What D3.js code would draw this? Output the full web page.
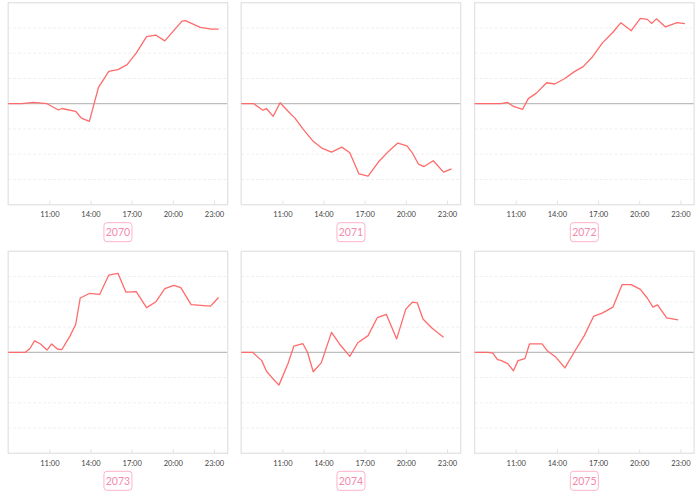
<!DOCTYPE html>
<html><head><meta charset="utf-8">
<script src="https://cdn.jsdelivr.net/npm/d3@7"></script>
<style>body{margin:0;background:#fff;}svg{display:block;}</style>
</head><body>
<script>
const years = ["2070","2071","2072","2073","2074","2075"];
const xTicks = ["11:00","14:00","17:00","20:00","23:00"];

const times2070 = ["08:00","09:00","09:50","10:50","11:40","11:55","12:55","13:20","13:55","14:35","15:20","16:00","16:40","17:20","18:05","18:45","19:25","20:40","20:55","22:00","22:50","23:20"];
const values2070 = [0,0,0.05,0,-0.25,-0.19,-0.30,-0.57,-0.70,0.65,1.28,1.35,1.55,2.0,2.66,2.72,2.49,3.27,3.29,3.02,2.95,2.95];

const times2071 = ["08:00","08:55","09:35","09:50","10:20","10:50","11:25","11:55","12:30","13:15","13:55","14:35","15:20","15:55","16:35","17:15","18:00","18:45","19:25","20:05","20:30","20:55","21:20","22:00","22:45","23:20"];
const values2071 = [0,0,-0.26,-0.19,-0.50,0.04,-0.30,-0.57,-1.0,-1.49,-1.77,-1.92,-1.72,-1.94,-2.78,-2.87,-2.31,-1.88,-1.56,-1.67,-1.97,-2.39,-2.49,-2.26,-2.71,-2.58];

const times2072 = ["08:00","09:55","10:25","10:50","11:30","11:55","12:30","13:15","13:50","14:35","15:15","15:55","16:35","17:20","18:05","18:40","19:25","20:05","20:35","20:55","21:15","21:55","22:45","23:20"];
const values2072 = [0,0,0.05,-0.11,-0.22,0.2,0.42,0.83,0.78,1.0,1.26,1.47,1.85,2.42,2.83,3.21,2.89,3.38,3.34,3.18,3.36,3.04,3.21,3.17];

const times2073 = ["08:00","09:15","09:35","09:55","10:20","10:50","11:10","11:35","11:55","12:30","12:55","13:15","13:55","14:40","15:20","16:00","16:35","17:20","18:05","18:45","19:25","20:05","20:35","21:20","22:45","23:20"];
const values2073 = [0,0,0.15,0.45,0.34,0.09,0.33,0.13,0.11,0.64,1.1,2.15,2.33,2.29,3.06,3.13,2.38,2.4,1.77,1.99,2.52,2.65,2.56,1.89,1.83,2.17];

const times2074 = ["08:00","08:50","09:30","09:50","10:20","10:45","11:25","11:50","12:30","12:50","13:15","13:50","14:35","15:10","15:55","16:30","17:15","17:55","18:35","19:20","20:00","20:30","20:50","21:15","21:55","22:45"];
const values2074 = [0,0,-0.33,-0.74,-1.06,-1.3,-0.44,0.24,0.34,0,-0.77,-0.42,0.79,0.33,-0.16,0.38,0.66,1.37,1.5,0.53,1.71,1.99,1.96,1.32,0.95,0.6];

const times2075 = ["08:00","09:00","09:20","09:40","09:55","10:25","10:50","11:10","11:40","12:00","12:55","13:20","13:55","14:35","15:20","16:00","16:40","17:20","18:05","18:45","19:25","20:05","20:35","21:00","21:20","22:00","22:50"];
const values2075 = [0,0,-0.03,-0.29,-0.32,-0.45,-0.73,-0.33,-0.25,0.33,0.33,0.04,-0.19,-0.62,0.07,0.66,1.42,1.56,1.79,2.68,2.68,2.49,2.15,1.79,1.88,1.36,1.28];

const allTimes = [times2070,times2071,times2072,times2073,times2074,times2075];
const allValues = [values2070,values2071,values2072,values2073,values2074,values2075];

const toHour = s => { const [h,m] = s.split(":").map(Number); return h + m/60; };

const W = 700, H = 497;
const svg = d3.select("body").append("svg").attr("width", W).attr("height", H);
svg.append("rect").attr("width", W).attr("height", H).attr("fill", "#fff");

const pw = 219.5, ph = 202;
const lefts = [8.2, 241.2, 474.6];
const tops = [2.7, 251.3];

years.forEach((yr, i) => {
  const col = i % 3, row = Math.floor(i / 3);
  const g = svg.append("g").attr("transform", `translate(${lefts[col]},${tops[row]})`);
  const x = d3.scaleLinear().domain([8, 24]).range([0, pw]);
  const y = d3.scaleLinear().domain([-4, 4]).range([ph, 0]);

  // grid
  g.append("g").selectAll("line").data(d3.range(-3, 4).filter(v => v !== 0)).join("line")
    .attr("x1", 0).attr("x2", pw).attr("y1", d => y(d)).attr("y2", d => y(d))
    .attr("stroke", "#efefef").attr("stroke-width", 1).attr("stroke-dasharray", "3,2");

  // x axis
  const ax = d3.axisBottom(x).tickValues(xTicks.map(toHour))
    .tickFormat((d, k) => xTicks[k]).tickSize(-4).tickPadding(7);
  const axg = g.append("g").attr("transform", `translate(0,${ph})`).call(ax);
  axg.select(".domain").remove();
  axg.selectAll(".tick line").attr("stroke", "#e2e2e2");
  axg.selectAll(".tick text").attr("fill", "#444").attr("font-size", "7.5px")
    .attr("font-family", "Lato, 'Open Sans', sans-serif");

  // zero line
  g.append("line").attr("x1", 0).attr("x2", pw).attr("y1", y(0)).attr("y2", y(0))
    .attr("stroke", "#bdbdbd").attr("stroke-width", 1.3);

  // border
  g.append("rect").attr("x", 0).attr("y", 0).attr("width", pw).attr("height", ph)
    .attr("fill", "none").attr("stroke", "#e3e3e3").attr("stroke-width", 1.3);

  // line
  const pts = allTimes[i].map((t, k) => [toHour(t), allValues[i][k]]);
  g.append("path").datum(pts)
    .attr("d", d3.line().x(d => x(d[0])).y(d => y(d[1])))
    .attr("fill", "none").attr("stroke", "#ff6b6b").attr("stroke-width", 1.3)
    .attr("stroke-linejoin", "round");

  // label box
  const cx = pw / 2, cy = ph + 27.5;
  g.append("rect").attr("x", cx - 14).attr("y", cy - 9.5).attr("width", 28).attr("height", 19)
    .attr("rx", 3).attr("fill", "#fff").attr("stroke", "#ffb3c8").attr("stroke-width", 1);
  g.append("text").attr("x", cx).attr("y", cy).attr("dy", "0.36em").attr("text-anchor", "middle")
    .attr("font-size", "10.5px").attr("font-family", "Lato, 'Open Sans', sans-serif")
    .attr("fill", "#f48aab").text(yr);
});
</script>
</body></html>
